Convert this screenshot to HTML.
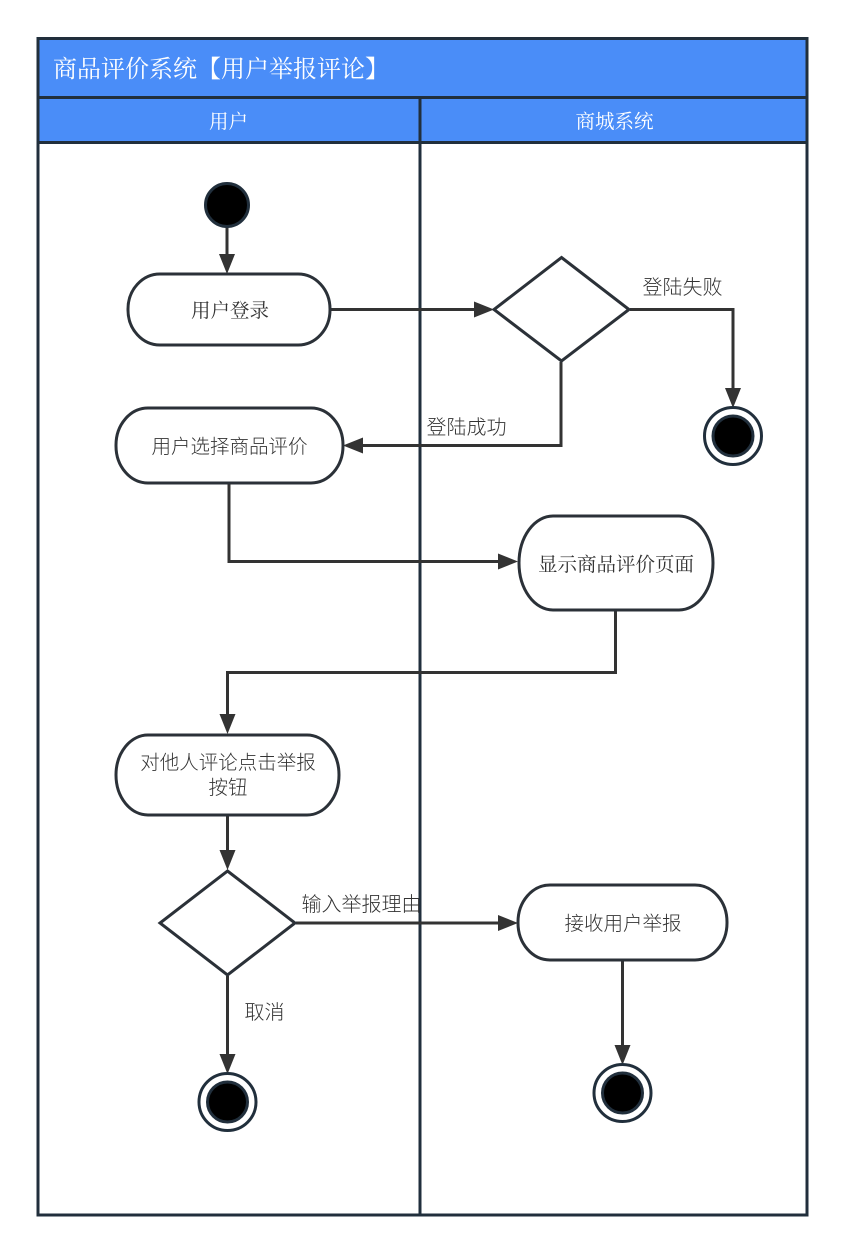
<!DOCTYPE html>
<html><head><meta charset="utf-8"><style>
html,body{margin:0;padding:0;background:#fff}
svg{display:block}
text{font-family:"Liberation Sans","Noto Sans CJK SC",sans-serif;font-weight:300;fill:#333;font-size:19.500px;text-anchor:middle}
text.l{font-size:20px}
text.s{font-family:"Liberation Serif","Noto Serif CJK SC",serif;font-weight:400}
</style></head><body>
<svg width="844" height="1252" viewBox="0 0 844 1252" xmlns="http://www.w3.org/2000/svg">
<rect width="844" height="1252" fill="#fff"/>
<rect x="38" y="38" width="769" height="59" fill="#4a8df8"/>
<rect x="38" y="97" width="769" height="45" fill="#4a8df8"/>
<g fill="none" stroke="#212f3c" stroke-width="3">
<rect x="38" y="38.500" width="769" height="1176.500"/>
<path d="M38 97.500H807M38 142.500H807M420 97V1215"/>
</g>
<text class="s" x="53" y="77" style="font-size:24px;fill:#fff;text-anchor:start">商品评价系统【用户举报评论】</text>
<text class="s" x="228.500" y="128" style="fill:#fff">用户</text>
<text class="s" x="614.500" y="128" style="fill:#fff">商城系统</text>

<g fill="none" stroke="#333" stroke-width="3">
<path d="M227 227V256"/>
<path d="M331 309.500H476"/>
<path d="M561 362V445.500H362"/>
<path d="M630 309.500H733V388"/>
<path d="M229 484V561.500H500"/>
<path d="M615.500 611V672.500H227.500V715"/>
<path d="M227.500 816V852"/>
<path d="M296 923H500"/>
<path d="M227.500 976V1055"/>
<path d="M622.500 961V1046"/>
</g>
<g fill="#333">
<path d="M219 254H235L227 274Z"/>
<path d="M474 301.500V317.500L494 309.500Z"/>
<path d="M363 437.500V453.500L343 445.500Z"/>
<path d="M725 388H741L733 408Z"/>
<path d="M498 553.500V569.500L518 561.500Z"/>
<path d="M219.500 714H235.500L227.500 734Z"/>
<path d="M219.500 850H235.500L227.500 870Z"/>
<path d="M498 915V931L518 923Z"/>
<path d="M219.500 1054H235.500L227.500 1074Z"/>
<path d="M614.500 1045H630.500L622.500 1065Z"/>
</g>

<g fill="#fff" stroke="#2b3138" stroke-width="3">
<rect x="128" y="274" width="202" height="71" rx="32" ry="35"/>
<rect x="116" y="408" width="227" height="75" rx="32" ry="37"/>
<rect x="519" y="516" width="194" height="94" rx="34" ry="47"/>
<rect x="116" y="735" width="223" height="80" rx="32" ry="40"/>
<rect x="518" y="885" width="209" height="75" rx="32" ry="37"/>
<path d="M561.500 257.500L629 309.500L561.500 361L494 309.500Z"/>
<path d="M227.500 871L295 923L227.500 975L160 923Z"/>
</g>

<circle cx="227" cy="205" r="21.500" fill="#000" stroke="#212f3c" stroke-width="3"/>
<g>
<circle cx="733" cy="436" r="28.500" fill="#fff" stroke="#212f3c" stroke-width="3"/>
<circle cx="733" cy="436" r="20" fill="#000" stroke="#212f3c" stroke-width="3"/>
<circle cx="227.500" cy="1102" r="28.500" fill="#fff" stroke="#212f3c" stroke-width="3"/>
<circle cx="227.500" cy="1102" r="20" fill="#000" stroke="#212f3c" stroke-width="3"/>
<circle cx="622.500" cy="1093" r="28.500" fill="#fff" stroke="#212f3c" stroke-width="3"/>
<circle cx="622.500" cy="1093" r="20" fill="#000" stroke="#212f3c" stroke-width="3"/>
</g>

<text class="s" x="230" y="317">用户登录</text>
<text x="229.500" y="453">用户选择商品评价</text>
<text class="s" x="616" y="571">显示商品评价页面</text>
<text x="228" y="769">对他人评论点击举报</text>
<text x="228" y="794">按钮</text>
<text x="623" y="930">接收用户举报</text>
<text class="l" x="682.500" y="294">登陆失败</text>
<text class="l" x="466.500" y="434">登陆成功</text>
<text class="l" x="361.500" y="911">输入举报理由</text>
<text class="l" x="264.500" y="1019">取消</text>
</svg>
</body></html>
